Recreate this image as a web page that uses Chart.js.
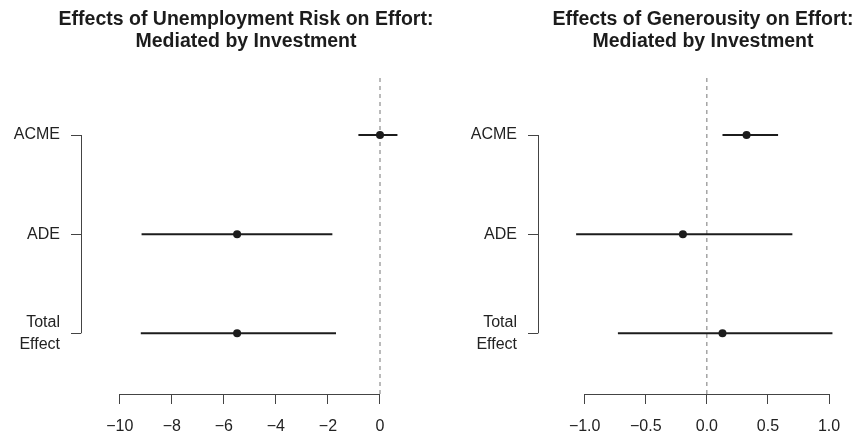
<!DOCTYPE html>
<html>
<head>
<meta charset="utf-8">
<script src="https://cdn.jsdelivr.net/npm/chart.js@4/dist/chart.umd.min.js"></script>
<style>
  html, body { margin: 0; padding: 0; background: #fff; overflow: hidden; }
  body { width: 854px; height: 441px; position: relative; }
  .panel { position: absolute; top: 0; height: 441px; }
  #riskPanel { left: 0; width: 492px; }
  #genPanel { left: 427px; width: 552px; }
</style>
</head>
<body>
<div class="panel" id="riskPanel"><canvas id="riskChart"></canvas></div>
<div class="panel" id="genPanel"><canvas id="genChart"></canvas></div>
<script>
// Mediation effects (point estimates with confidence intervals)
const effectLabels = ['ACME', 'ADE', ['Total', 'Effect']];
const rowPositions = [1, 2, 3];

// Unemployment risk -> effort, mediated by investment
const riskEstimate = [0.0, -5.49, -5.49];
const riskLower = [-0.83, -9.16, -9.19];
const riskUpper = [0.67, -1.83, -1.69];
const riskTickValues = [-10, -8, -6, -4, -2, 0];
const riskTickLabels = ['\u221210', '\u22128', '\u22126', '\u22124', '\u22122', '0'];

// Generosity -> effort, mediated by investment
const genEstimate = [0.325, -0.196, 0.128];
const genLower = [0.128, -1.07, -0.728];
const genUpper = [0.583, 0.70, 1.028];
const genTickValues = [-1.0, -0.5, 0.0, 0.5, 1.0];
const genTickLabels = ['\u22121.0', '\u22120.5', '0.0', '0.5', '1.0'];

const FONT = '"Liberation Sans", Arial, Helvetica, sans-serif';
const INK = '#1c1c1c';
const AXIS = '#444444';
const Y_MIN = 0.425, Y_MAX = 3.612;

// R-style axes: x axis line spans first..last tick, y axis drawn as a bracket
const rAxesPlugin = {
  id: 'rAxes',
  afterDraw(chart) {
    const { ctx, chartArea, scales } = chart;
    const xs = scales.x, ys = scales.y;
    const xt = xs.ticks.map(t => t.value);
    const yt = ys.ticks.map(t => t.value);
    ctx.save();
    ctx.strokeStyle = AXIS;
    ctx.lineWidth = 1;
    ctx.beginPath();
    const yb = Math.round(chartArea.bottom) + 0.5;
    ctx.moveTo(xs.getPixelForValue(Math.min(...xt)), yb);
    ctx.lineTo(xs.getPixelForValue(Math.max(...xt)), yb);
    const xl = Math.round(chartArea.left) + 0.5;
    ctx.moveTo(xl, ys.getPixelForValue(Math.min(...yt)));
    ctx.lineTo(xl, ys.getPixelForValue(Math.max(...yt)));
    ctx.stroke();
    ctx.restore();
  }
};

function makePanel(canvasId, titleLines, est, lo, hi, tickValues, tickLabels, xMin, xMax, yAxisWidth, rightMargin) {
  const intervals = rowPositions.map((pos, i) => ({
    type: 'scatter',
    showLine: true,
    data: [{ x: lo[i], y: pos }, { x: hi[i], y: pos }],
    borderColor: INK,
    borderWidth: 2,
    borderCapStyle: 'butt',
    pointRadius: 0,
    order: 1
  }));
  const datasets = [
    {
      type: 'scatter',
      showLine: true,
      data: [{ x: 0, y: Y_MIN }, { x: 0, y: Y_MAX }],
      borderColor: '#777777',
      borderWidth: 1,
      borderDash: [4, 4],
      pointRadius: 0,
      order: 10
    },
    ...intervals,
    {
      type: 'scatter',
      data: rowPositions.map((pos, i) => ({ x: est[i], y: pos })),
      backgroundColor: INK,
      borderWidth: 0,
      pointRadius: 4,
      order: 0
    }
  ];

  return new Chart(document.getElementById(canvasId), {
    type: 'scatter',
    data: { datasets },
    options: {
      responsive: true,
      maintainAspectRatio: false,
      animation: false,
      layout: { padding: 0 },
      plugins: {
        legend: { display: false },
        tooltip: { enabled: false },
        title: {
          display: true,
          fullSize: true,
          text: titleLines,
          color: INK,
          font: { family: FONT, size: 19.5, weight: 'bold', lineHeight: '22px' },
          padding: { top: 9, bottom: 25 }
        }
      },
      scales: {
        x: {
          type: 'linear',
          min: xMin,
          max: xMax,
          afterFit(s) { s.height = 47; s.paddingLeft = 0; s.paddingRight = 0; },
          afterBuildTicks(s) { s.ticks = tickValues.map(v => ({ value: v })); },
          grid: { drawOnChartArea: false, drawTicks: true, tickLength: 10, color: AXIS },
          border: { display: false },
          ticks: {
            autoSkip: false,
            maxRotation: 0,
            padding: 13,
            color: '#222',
            font: { family: FONT, size: 16 },
            callback: (v, i) => tickLabels[i]
          }
        },
        y: {
          type: 'linear',
          reverse: true,
          min: Y_MIN,
          max: Y_MAX,
          afterFit(s) { s.width = yAxisWidth; s.paddingTop = 0; s.paddingBottom = 0; },
          afterBuildTicks(s) { s.ticks = rowPositions.map(v => ({ value: v })); },
          grid: { drawOnChartArea: false, drawTicks: true, tickLength: 10, color: AXIS },
          border: { display: false },
          ticks: {
            autoSkip: false,
            padding: 11,
            color: '#222',
            font: { family: FONT, size: 16, lineHeight: '22px' },
            callback: (v, i) => effectLabels[i]
          }
        },
        // blank right-hand margin of the plot region
        margin: {
          type: 'linear',
          position: 'right',
          display: true,
          grid: { display: false },
          border: { display: false },
          ticks: { display: false },
          afterFit(s) { s.width = rightMargin; s.paddingTop = 0; s.paddingBottom = 0; }
        }
      }
    },
    plugins: [rAxesPlugin]
  });
}

makePanel('riskChart',
  ['Effects of Unemployment Risk on Effort:', 'Mediated by Investment'],
  riskEstimate, riskLower, riskUpper, riskTickValues, riskTickLabels,
  -11.487, 1.191, 81, 81);

makePanel('genChart',
  ['Effects of Generousity on Effort:', 'Mediated by Investment'],
  genEstimate, genLower, genUpper, genTickValues, genTickLabels,
  -1.382, 1.319, 111, 111);
</script>
</body>
</html>
